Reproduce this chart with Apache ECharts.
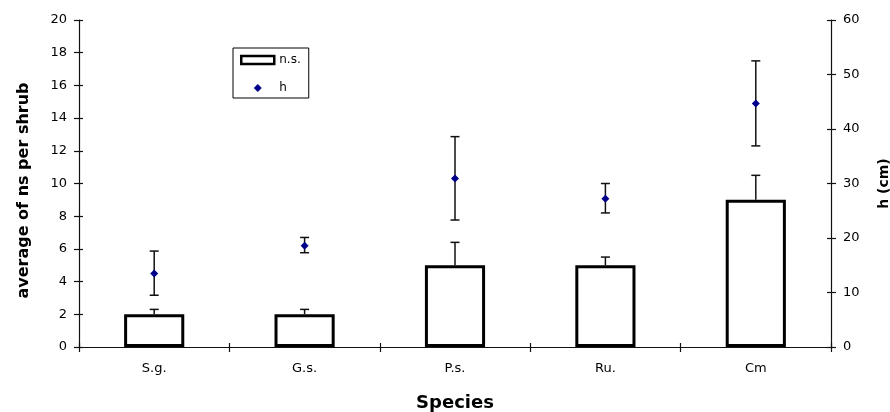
<!DOCTYPE html>
<html><head><meta charset="utf-8">
<script src="https://cdn.jsdelivr.net/npm/echarts@6/dist/echarts.min.js"></script>
<style>html,body{margin:0;padding:0;background:#fff}#c{width:890px;height:412px}</style>
</head><body><div id="c"></div>
<script>
// ---- data ----
const categories = ['S.g.', 'G.s.', 'P.s.', 'Ru.', 'Cm'];
const nsMean = [2, 2, 5, 5, 9];
const nsErrTop = [2.3, 2.3, 6.4, 5.5, 10.5];
const hMean = [13.5, 18.6, 30.9, 27.2, 44.7];
const hLow = [9.5, 17.3, 23.3, 24.6, 36.9];
const hHigh = [17.6, 20.1, 38.6, 30.0, 52.5];
const leftAxis = { min: 0, max: 20, interval: 2 };
const rightAxis = { min: 0, max: 60, interval: 10 };

const FONT = 'DejaVu Sans';
const AX = '#111';

function errItem(params, api) {
  const x = api.value(0), lo = api.value(1), hi = api.value(2), both = api.value(3);
  const p1 = api.coord([x, lo]), p2 = api.coord([x, hi]);
  const w = 4.5;
  const st = { stroke: '#111', lineWidth: 1.5 };
  const ch = [
    { type: 'line', shape: { x1: p1[0], y1: p1[1], x2: p2[0], y2: p2[1] }, style: st },
    { type: 'line', shape: { x1: p2[0] - w, y1: p2[1], x2: p2[0] + w, y2: p2[1] }, style: st }
  ];
  if (both) ch.push({ type: 'line', shape: { x1: p1[0] - w, y1: p1[1], x2: p1[0] + w, y2: p1[1] }, style: st });
  return { type: 'group', children: ch };
}

const chart = echarts.init(document.getElementById('c'), null, { renderer: 'canvas' });
const baseY = (cfg, pos) => Object.assign({ type: 'value', position: pos, splitLine: { show: false } }, cfg);

chart.setOption({
  animation: false,
  backgroundColor: '#fff',
  grid: { left: 79, right: 59, top: 20, bottom: 65, containLabel: false, outerBoundsMode: 'none' },
  legend: {
    left: 233, top: 48, orient: 'vertical',
    borderColor: '#000', borderWidth: 1, padding: [6, 8, 4, 7], itemGap: 16,
    itemWidth: 33, itemHeight: 8, symbolKeepAspect: true,
    textStyle: { fontFamily: FONT, fontSize: 12, color: '#000' },
    data: [
      { name: 'n.s.', icon: 'rect', itemStyle: { borderWidth: 2.5, borderColor: '#000', color: '#fff' } },
      { name: 'h', icon: 'path://M5,0L10,5L5,10L0,5Z' }
    ]
  },
  xAxis: [
    {
      type: 'category', data: categories, boundaryGap: true, position: 'bottom',
      name: 'Species', nameLocation: 'middle', nameGap: 47,
      nameTextStyle: { fontFamily: FONT, fontWeight: 'bold', fontSize: 18, color: '#000' },
      axisLine: { lineStyle: { color: AX, width: 1.2 } },
      axisTick: { show: true, length: 5, lineStyle: { color: AX, width: 1.2 } },
      axisLabel: { fontFamily: FONT, fontSize: 13, color: '#000', margin: 15 }
    },
    {
      type: 'category', data: categories, boundaryGap: true, position: 'bottom',
      axisLine: { show: false }, axisLabel: { show: false },
      axisTick: { show: true, inside: true, length: 4, lineStyle: { color: AX, width: 1.2 } }
    }
  ],
  yAxis: [
    baseY(Object.assign({
      name: 'average of ns per shrub', nameLocation: 'middle', nameGap: 47, nameRotate: 90,
      nameTextStyle: { fontFamily: FONT, fontWeight: 'bold', fontSize: 16, color: '#000', padding: [0, 14, 0, 0] },
      axisLine: { show: true, lineStyle: { color: AX, width: 1.2 } },
      axisTick: { show: true, length: 5, lineStyle: { color: AX, width: 1.2 } },
      axisLabel: { fontFamily: FONT, fontSize: 13, color: '#000', margin: 12 }
    }, leftAxis), 'left'),
    baseY(Object.assign({
      name: 'h (cm)', nameLocation: 'middle', nameGap: 46, nameRotate: 90,
      nameTextStyle: { fontFamily: FONT, fontWeight: 'bold', fontSize: 14, color: '#000' },
      axisLine: { show: true, lineStyle: { color: AX, width: 1.2 } },
      axisTick: { show: true, length: 5, lineStyle: { color: AX, width: 1.2 } },
      axisLabel: { fontFamily: FONT, fontSize: 13, color: '#000', margin: 12 }
    }, rightAxis), 'right'),
    baseY(Object.assign({
      axisLine: { show: false }, axisLabel: { show: false },
      axisTick: { show: true, inside: true, length: 4, lineStyle: { color: AX, width: 1.2 } }
    }, leftAxis), 'left'),
    baseY(Object.assign({
      axisLine: { show: false }, axisLabel: { show: false },
      axisTick: { show: true, inside: true, length: 4, lineStyle: { color: AX, width: 1.2 } }
    }, rightAxis), 'right')
  ],
  series: [
    {
      name: 'n.s.', type: 'bar', xAxisIndex: 0, yAxisIndex: 0, barWidth: '40%',
      data: nsMean,
      itemStyle: { color: '#fff', borderColor: '#000', borderWidth: 3 },
      z: 2
    },
    {
      name: 'nsErr', type: 'custom', xAxisIndex: 0, yAxisIndex: 0,
      data: categories.map((c, i) => [i, nsMean[i], nsErrTop[i], 0]),
      encode: { x: 0, y: [1, 2] }, renderItem: errItem, z: 3, silent: true
    },
    {
      name: 'hErr', type: 'custom', xAxisIndex: 0, yAxisIndex: 1,
      data: categories.map((c, i) => [i, hLow[i], hHigh[i], 1]),
      encode: { x: 0, y: [1, 2] }, renderItem: errItem, z: 3, silent: true
    },
    {
      name: 'h', type: 'scatter', xAxisIndex: 0, yAxisIndex: 1,
      data: hMean, symbol: 'diamond', symbolSize: 8,
      itemStyle: { color: '#00008b', opacity: 1 }, z: 4
    }
  ]
});
</script>
</body></html>
